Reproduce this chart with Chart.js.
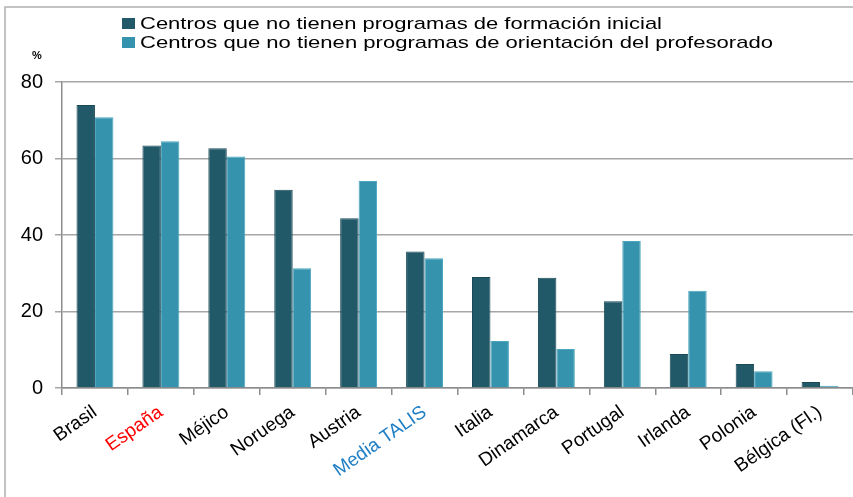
<!DOCTYPE html>
<html>

<head>
	<meta charset="UTF-8">
	<style>
		html, body { margin: 0; padding: 0; background: #fff; }
		#wrap { width: 853px; height: 497px; position: relative; }
	</style>
	<script src="https://cdn.jsdelivr.net/npm/chart.js@4.4.0/dist/chart.umd.min.js"></script>
</head>

<body>
	<div id="wrap">
		<canvas id="barChart" width="853" height="497"></canvas>
	</div>
	<script>
		// datos
		var paises = ['Brasil', 'España', 'Méjico', 'Noruega', 'Austria', 'Media TALIS', 'Italia',
			'Dinamarca', 'Portugal', 'Irlanda', 'Polonia', 'Bélgica (Fl.)'];
		var formacionInicial = [74.0, 63.4, 62.7, 51.8, 44.4, 35.7, 29.0, 28.8, 22.7, 8.9, 6.3, 1.6];
		var orientacion = [70.8, 64.5, 60.5, 31.3, 54.1, 33.9, 12.3, 10.2, 38.4, 25.4, 4.4, 0.6];
		var etiquetasSerie = ['Centros que no tienen programas de formación inicial',
			'Centros que no tienen programas de orientación del profesorado'];
		var yTicks = [0, 20, 40, 60, 80];

		var fuente = "'Liberation Sans', Arial, sans-serif";

		// leyenda, marco y el "%" dibujados a mano
		var extras = {
			id: 'extras',
			afterDraw: function (chart) {
				var ctx = chart.ctx;
				ctx.save();
				// marco exterior
				ctx.strokeStyle = '#b0b0b0';
				ctx.lineWidth = 1.5;
				ctx.beginPath();
				ctx.moveTo(5, 497);
				ctx.lineTo(5, 7);
				ctx.lineTo(853, 7);
				ctx.stroke();

				// leyenda (texto algo estrecho, como en el original)
				ctx.font = '17px ' + fuente;
				ctx.textBaseline = 'middle';
				var ys = [23, 42];
				chart.data.datasets.forEach(function (ds, i) {
					ctx.fillStyle = ds.backgroundColor;
					ctx.fillRect(122, ys[i] - 5, 13, 11);
					ctx.fillStyle = '#000';
					var w = ctx.measureText(ds.label).width;
					var target = i === 0 ? 522 : 633;
					ctx.save();
					ctx.translate(140, ys[i] + 1);
					ctx.scale(target / w, 1);
					ctx.fillText(ds.label, 0, 0);
					ctx.restore();
				});

				// unidad
				ctx.font = 'bold 11px ' + fuente;
				ctx.fillStyle = '#000';
				ctx.textAlign = 'center';
				ctx.fillText('%', 37, 56);
				ctx.restore();
			}
		};

		var ctx = document.getElementById('barChart').getContext('2d');
		var myChart = new Chart(ctx, {
			type: 'bar',
			data: {
				labels: paises,
				datasets: [{
					label: etiquetasSerie[0],
					data: formacionInicial,
					backgroundColor: '#215968',
					borderColor: '#1a4a57',
					borderWidth: 1
				}, {
					label: etiquetasSerie[1],
					data: orientacion,
					backgroundColor: '#3593ae',
					borderColor: '#4aa6c0',
					borderWidth: 1
				}]
			},
			options: {
				responsive: false,
				animation: false,
				layout: {
					padding: { top: 82, left: 0, right: 0, bottom: 0 }
				},
				plugins: {
					legend: { display: false },
					tooltip: { enabled: false }
				},
				datasets: {
					bar: {
						barPercentage: 1,
						categoryPercentage: 0.56
					}
				},
				scales: {
					x: {
						afterFit: function (scale) { scale.height = 109; },
						grid: {
							drawOnChartArea: false,
							offset: true,
							tickLength: 7,
							color: '#8c8c8c',
							lineWidth: 1.5
						},
						border: { color: '#8c8c8c', width: 1.5 },
						ticks: {
							minRotation: 35,
							maxRotation: 35,
							padding: 6,
							font: { family: fuente, size: 19 },
							color: function (c) {
								if (c.index === 1) return '#ff0000';
								if (c.index === 5) return '#1f7fc6';
								return '#000';
							}
						}
					},
					y: {
						min: 0,
						max: 80,
						afterFit: function (scale) { scale.width = 62; },
						afterBuildTicks: function (scale) {
							scale.ticks = yTicks.map(function (v) { return { value: v }; });
						},
						grid: {
							color: '#a6a6a6',
							lineWidth: 1.5,
							tickLength: 7
						},
						border: { color: '#8c8c8c', width: 1.5 },
						ticks: {
							padding: 12,
							font: { family: fuente, size: 20 },
							color: '#000'
						}
					}
				}
			},
			plugins: [extras]
		});
	</script>
</body>

</html>
